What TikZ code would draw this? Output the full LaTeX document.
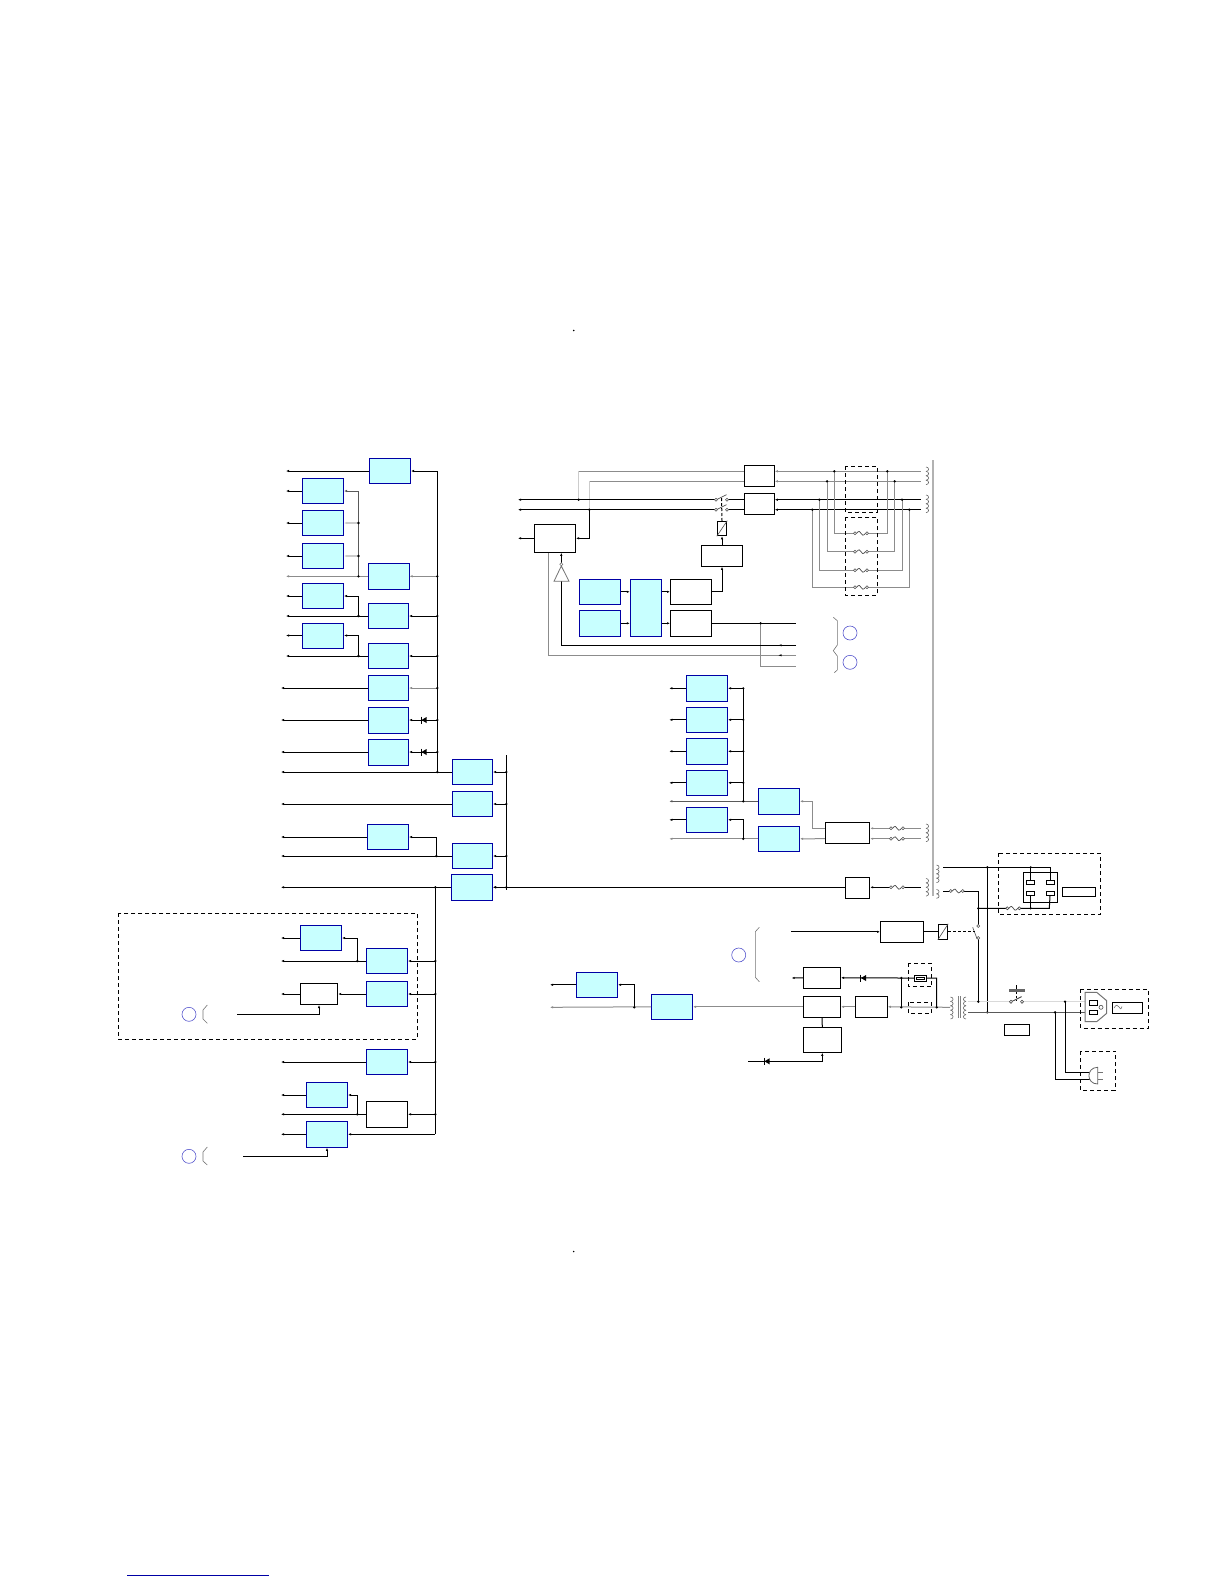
\documentclass[tikz,border=0pt]{standalone}
\usetikzlibrary{arrows.meta,calc}
\definecolor{cyanfill}{RGB}{200,255,255}
\definecolor{boxblue}{RGB}{0,0,165}
\definecolor{ringblue}{RGB}{85,85,205}
\begin{document}
\begin{tikzpicture}[
  x=1pt, y=-1pt,
  >={Latex[length=3pt,width=2.4pt]},
  cbox/.style={draw=boxblue, fill=cyanfill, line width=1pt, minimum width=41pt, minimum height=25pt, inner sep=0pt},
  wbox/.style={draw=black, fill=white, line width=1pt, minimum width=41pt, minimum height=21pt, inner sep=0pt},
  cont/.style={draw=black, fill=white, line width=.8pt, minimum width=8pt, minimum height=4.5pt, inner sep=0pt},
  ring/.style={circle, draw=ringblue, line width=.6pt, minimum size=14pt, inner sep=0pt},
  wire/.style={black, line width=1pt},
  gw/.style={black!45, line width=1pt},
  lg/.style={black!20, line width=1.5pt},
  dg/.style={black!65, line width=1pt},
  thin grey/.style={black!55, line width=.6pt},
  dbox/.style={black, line width=.9pt, dash pattern=on 4pt off 3pt},
  pics/fuse/.style={code={
    \fill[white] (-7,-2.5) rectangle (7,2.5);
    \draw[black!70, line width=.7pt] (-4.5,0) .. controls (-2,-3) and (-1,-2) .. (0,0) .. controls (1,2) and (2,3) .. (4.5,0);
    \draw[black!70, line width=.6pt, fill=white] (-6,0) circle (1.5) (6,0) circle (1.5);
  }},
  pics/diode/.style={code={
    \fill[black] (-1.5,0) -- (3.5,-3) -- (3.5,3) -- cycle;
    \draw[black, line width=.7pt] (-2,-3.5) -- (-2,3.5);
  }},
  pics/coilr/.style={code={
    \foreach \i in {1,...,#1}
      \draw[black!60, line width=.6pt] (0,\i*4.4-4.4) arc (-90:90:2.6 and 2.2);
  }},
  pics/coill/.style={code={
    \foreach \i in {1,...,#1}
      \draw[black!60, line width=.6pt] (0,\i*4.4-4.4) arc (270:90:2.6 and 2.2);
  }},
  pics/swt/.style={code={
    \draw[black!70, line width=.7pt] (-5,0) -- (5,-5);
    \draw[black!70, line width=.6pt, fill=white] (-5.5,0) circle (1.5) (5.5,0) circle (1.5);
  }}
]
  \useasboundingbox (0,0) rectangle (1224,1584);

  \coordinate (lA) at (286,0);
  \coordinate (lB) at (281,0);
  \coordinate (busA) at (437.3,0);
  \coordinate (busB) at (506.3,0);
  \coordinate (busC) at (435.3,0);
  \coordinate (jA) at (358.5,0);
  \coordinate (jB) at (436.3,0);
  \coordinate (jE) at (357.3,0);

  \node[cbox] (a1) at (390,471) {};
  \node[cbox] (l1) at (323,491) {};
  \node[cbox] (l2) at (323,523) {};
  \node[cbox] (l3) at (323,556) {};
  \node[cbox] (l4) at (323,596) {};
  \node[cbox] (l5) at (323,635.5) {};
  \node[cbox, minimum height=26pt] (m1) at (388.5,576.3) {};
  \node[cbox, minimum width=40pt] (m2) at (388.5,616) {};
  \node[cbox, minimum width=40pt] (m3) at (388.5,656) {};
  \node[cbox, minimum width=40pt] (m4) at (388.5,688) {};
  \node[cbox, minimum width=40pt, minimum height=26pt] (m5) at (388.5,720) {};
  \node[cbox, minimum width=40pt, minimum height=26pt] (m6) at (388.5,752) {};
  \node[cbox, minimum width=40pt] (r1) at (472.5,772) {};
  \node[cbox, minimum width=40pt] (r2) at (472.5,804) {};
  \node[cbox] (n1) at (388,837) {};
  \node[cbox, minimum width=40pt] (r3) at (472.5,856) {};
  \node[cbox, minimum height=26pt] (r4) at (472,887.3) {};

  \foreach \n in {a1,l1,l2,l3,l4,l5,m2,m3}
    \draw[wire,->] (\n.west) -- (\n.west -| lA);
  \draw[gw,->] (m1.west) -- (m1.west -| lA);
  \foreach \n in {m4,m5,m6,r1,r2,n1,r3,r4}
    \draw[wire,->] (\n.west) -- (\n.west -| lB);

  \draw[wire] (a1.east -| busA) -- (r1.west -| busA);
  \foreach \n in {a1,m2,m3,m5,m6}
    \draw[wire,<-] (\n.east) -- (\n.east -| busA);
  \foreach \n in {m1,m4}
    \draw[gw,<-] (\n.east) -- (\n.east -| busA);
  \pic at (423,720) {diode};
  \pic at (423,752) {diode};

  \draw[dg,<-] (l1.east) -- (l1.east -| jA) -- (m1.west -| jA);
  \draw[lg,<-] (l2.east) -- (l2.east -| jA);
  \draw[lg,<-] (l3.east) -- (l3.east -| jA);
  \draw[wire,<-] (l4.east) -| (m2.west -| jA);
  \draw[wire,<-] (l5.east) -| (m3.west -| jA);
  \draw[wire,<-] (n1.east) -| (r3.west -| jB);

  \coordinate (busT) at (506.3,755);
  \coordinate (busE) at (506.3,890);
  \draw[wire] (busT) -- (busE);
  \foreach \n in {r1,r2,r3,r4}
    \draw[wire,<-] (\n.east) -- (\n.east -| busB);

  \node[cbox] (s1) at (321,938) {};
  \node[cbox] (s2) at (387,961) {};
  \node[wbox, minimum width=37.4pt] (w1) at (319,994) {};
  \node[cbox] (s3) at (387,994) {};
  \node[cbox] (s4) at (387,1062) {};
  \node[cbox] (s5) at (327,1095) {};
  \node[wbox, minimum height=26pt] (w2) at (387,1114.3) {};
  \node[cbox, minimum height=26pt] (s6) at (327,1134.3) {};

  \draw[wire] (r4.west -| busC) -- (s6.east -| busC);
  \foreach \n in {s2,s3,s4,w2}
    \draw[wire,<-] (\n.east) -- (\n.east -| busC);
  \draw[wire,<-] (s6.east) -- (s6.east -| busC);
  \foreach \n in {s1,s2,w1,s4,s5,w2,s6}
    \draw[wire,->] (\n.west) -- (\n.west -| lB);
  \draw[wire,<-] (w1.east) -- (s3.west);
  \draw[wire,<-] (s1.east) -| (s2.west -| jE);
  \draw[wire,<-] (s5.east) -| (w2.west -| jE);

  \node[ring] (c1) at (189,1014.3) {};
  \node[ring] (c2) at (189,1156.3) {};
  \coordinate (e1) at (237,1014.3);
  \coordinate (e2) at (243,1156.3);
  \draw[wire,<-] (w1.south) |- (e1);
  \draw[wire,<-] (s6.south) |- (e2);
  \draw[thin grey] (207.3,1005) -- (203,1010) -- (203,1019) -- (207.3,1023.3);
  \draw[thin grey] (207.3,1147) -- (203,1152) -- (203,1161) -- (207.3,1165);

  \draw[dbox] (118.3,913.3) rectangle (417.3,1039.3);

  \foreach \n/\b in {m1/jA,m2/jA,m3/jA,r3/jB,s2/jE,w2/jE}
    \fill (\n.west -| \b) circle (1.3);
  \foreach \n in {m1,m2,m3,m4,m5,m6}
    \fill (\n.east -| busA) circle (1.3);
  \foreach \n in {l2,l3}
    \fill (\n.east -| jA) circle (1.3);
  \foreach \n in {r1,r2,r3,r4}
    \fill (\n.east -| busB) circle (1.3);
  \foreach \n in {s2,s3,s4,w2}
    \fill (\n.east -| busC) circle (1.3);
  \fill (r1.west -| busA) circle (1.3);
  \fill (r4.west -| busC) circle (1.3);

  \coordinate (tA) at (921,471.3);
  \coordinate (tB) at (921,481.3);
  \coordinate (tC) at (921,499.7);
  \coordinate (tD) at (921,509.7);
  \coordinate (sA) at (518,499.7);
  \coordinate (sB) at (518,509.7);
  \coordinate (jC) at (578.7,499.7);
  \coordinate (jD) at (589.3,509.7);
  \coordinate (swL) at (716,0);
  \coordinate (swR) at (727,0);

  \node[wbox, minimum width=30pt] (t1) at (759.3,475.8) {};
  \node[wbox, minimum width=30pt] (t2) at (759.3,503.8) {};
  \node[wbox, minimum height=28pt] (b1) at (555,538.3) {};
  \node[wbox] (u1) at (722,555.8) {};
  \node[wbox, minimum width=9.5pt, minimum height=14.5pt] (y1) at (722,528.5) {};
  \node[wbox, minimum height=25pt] (v1) at (691,591.8) {};
  \node[wbox, minimum height=26pt] (v2) at (691,623.3) {};
  \node[cbox, minimum width=31pt, minimum height=57pt] (g1) at (645.8,607.8) {};
  \node[cbox] (c3) at (600,591.8) {};
  \node[cbox, minimum height=26pt] (c4) at (600,623.3) {};

  \draw[gw,<-] (t1.east |- tA) -- (tA);
  \draw[gw,<-] (t1.east |- tB) -- (tB);
  \draw[wire,<-] (t2.east |- tC) -- (tC);
  \draw[wire,<-] (t2.east |- tD) -- (tD);
  \draw[gw] (t1.west |- tA) -- (jC |- tA);
  \draw[gw] (t1.west |- tB) -- (jD |- tB);
  \draw[lg] (jC |- tA) -- (jC);
  \draw[lg] (jD |- tB) -- (jD);
  \draw[wire,->] (swL |- tC) -- (sA);
  \draw[wire,->] (swL |- tD) -- (sB);
  \draw[wire] (t2.west |- tC) -- (swR |- tC);
  \draw[wire] (t2.west |- tD) -- (swR |- tD);
  \pic at (721.5,499.7) {swt};
  \pic at (721.5,509.7) {swt};
  \draw[wire, dash pattern=on 3pt off 2pt] (721.5,498) -- (y1.north);
  \draw[black!70, line width=.6pt] (y1.south west) -- (y1.north east);
  \fill (jC) circle (1.3);
  \fill (jD) circle (1.3);

  \coordinate (bT) at (561.3,645.3);
  \coordinate (bG) at (548.7,655.3);
  \coordinate (eT) at (796,645.3);
  \coordinate (eG) at (796,655.3);
  \coordinate (eV) at (796,623.3);
  \coordinate (eH) at (796,666.3);
  \coordinate (jV) at (760.7,623.3);
  \coordinate (tp) at (561.3,566);
  \coordinate (tl) at (554,581.3);
  \coordinate (tr) at (569,581.3);

  \draw[wire,<-] (b1.east) -| (jD);
  \draw[wire,->] (b1.west) -- (b1.west -| sA);
  \draw[wire,<-] (y1.south) -- (u1.north);
  \draw[wire,<-] (u1.south) |- (v1.east);
  \draw[wire,<-] (v1.west) -- (v1.west -| g1.east);
  \draw[wire,<-] (v2.west) -- (v2.west -| g1.east);
  \draw[wire,<-] (c3.east -| g1.west) -- (c3.east);
  \draw[wire,<-] (c4.east -| g1.west) -- (c4.east);
  \draw[wire] (v2.east) -- (eV);
  \draw[gw] (jV) -- (jV |- eH) -- (eH);
  \draw[wire] (eT) -- (bT) -- (tl -| bT);
  \draw[gw] (eG) -- (bG) -- (b1.south -| bG);
  \draw[wire,->] (tp) -- (b1.south -| tp);
  \draw[black!55, line width=.8pt] (tp) -- (tl) -- (tr) -- cycle;
  \draw[black!55, line width=.5pt, fill=white] (561.3,564.3) circle (1.6);
  \fill (jV) circle (1.3);
  \fill (bT -| 780,0) +(-1.5,0) -- +(1.5,-1) -- +(1.5,1) -- cycle;
  \fill (bG -| 780,0) +(-1.5,0) -- +(1.5,-1) -- +(1.5,1) -- cycle;

  \foreach \t/\xa/\xb/\yb in {tA/834.3/887.3/533.3,tB/827/894.7/551.7,tC/819.3/902/570.3,tD/812.3/909.3/587.3}{
    \coordinate (p) at (\xa,\yb);
    \coordinate (q) at (\xb,\yb);
    \draw[gw] (\t -| p) -- (p) -- (q) -- (\t -| q);
    \fill (\t -| p) circle (1.3);
    \fill (\t -| q) circle (1.3);
    \pic at (861,\yb) {fuse};
  }

  \draw[dbox] (845.3,466) rectangle (877.3,512.3);
  \draw[dbox] (845.3,517.3) rectangle (877.3,595.3);

  \pic at (926,467) {coilr=4};
  \pic at (926,495) {coilr=4};
  \pic at (926,824) {coilr=4};
  \pic at (926,878.5) {coilr=4};
  \pic at (936.5,865) {coilr=4};
  \pic at (936.5,889.5) {coilr=2};
  \coordinate (gT) at (932.7,460);
  \coordinate (gB) at (932.7,896);
  \draw[black!30, line width=2.4pt] (gT) -- (gB);

  \node[ring] (c5) at (850,633) {};
  \node[ring] (c6) at (850,662.3) {};
  \draw[thin grey] (833.3,617.3) -- (837.3,620.7) -- (837.3,645) -- (833.3,650.7) -- (837.3,656) -- (837.3,670) -- (834.3,672.7);

  \node[cbox, minimum height=26pt] (p1) at (707,688.3) {};
  \node[cbox] (p2) at (707,719.8) {};
  \node[cbox, minimum height=26pt] (p3) at (707,751.3) {};
  \node[cbox] (p4) at (707,782.8) {};
  \node[cbox] (p5) at (707,819.8) {};
  \node[cbox, minimum height=26pt] (q1) at (779,801.3) {};
  \node[cbox] (q2) at (779,838.8) {};
  \node[wbox, minimum width=44.4pt] (e5) at (847.5,832.8) {};
  \node[wbox, minimum width=24.4pt] (z1) at (857.5,887.8) {};

  \coordinate (lP) at (669.3,0);
  \coordinate (busP) at (743.3,0);
  \coordinate (jQ) at (812.3,0);
  \coordinate (cA) at (921,828.3);
  \coordinate (cB) at (921,838.7);
  \coordinate (cC) at (921,887.3);

  \foreach \n in {p1,p2,p3,p4,p5}{
    \draw[wire,->] (\n.west) -- (\n.west -| lP);
  }
  \foreach \n in {p1,p2,p3,p4}{
    \draw[wire,<-] (\n.east) -- (\n.east -| busP);
    \fill (\n.east -| busP) circle (1.2);
  }
  \draw[wire] (p1.east -| busP) -- (q1.west -| busP);
  \draw[wire,<-] (p5.east) -| (q2.west -| busP);
  \draw[dg,->] (q1.west) -- (q1.west -| lP);
  \draw[gw,->] (q2.west) -- (q2.west -| lP);
  \fill (q1.west -| busP) circle (1.3);
  \fill (q2.west -| busP) circle (1.3);
  \draw[gw,<-] (q1.east) -- (q1.east -| jQ) -- (e5.west |- cA -| jQ) -- (e5.west |- cA);
  \draw[gw,<-] (q2.east) -- (e5.west |- cB);
  \draw[gw,<-] (e5.east |- cA) -- (cA);
  \draw[gw,<-] (e5.east |- cB) -- (cB);
  \pic at (897,828.3) {fuse};
  \pic at (897,838.7) {fuse};

  \draw[wire,<-] (r4.east) -- (z1.west |- cC);
  \draw[wire,<-] (z1.east |- cC) -- (cC);
  \pic at (897,887.3) {fuse};

  \coordinate (hA) at (943.3,867.3);
  \coordinate (hJ) at (987.3,867.3);
  \coordinate (hC) at (1049.3,908.3);
  \coordinate (hD) at (978.3,908.3);
  \coordinate (hE) at (943,891);
  \coordinate (hF) at (978.3,891);
  \coordinate (hG) at (978.3,926);
  \coordinate (hH) at (978.3,938);
  \coordinate (hI) at (978.3,1001.7);
  \coordinate (jF) at (987.3,1012.3);
  \coordinate (oA) at (968,1001.7);
  \coordinate (oB) at (968,1012.3);
  \coordinate (oC) at (1085,1001.7);
  \coordinate (oD) at (1085,1012.3);
  \coordinate (jG) at (1065,1001.7);
  \coordinate (jH) at (1055,1012.3);
  \coordinate (kA) at (1090,1072.3);
  \coordinate (kB) at (1090,1079);
  \coordinate (kC) at (1102.7,1072.3);
  \coordinate (kD) at (1102.7,1079);

  \node[wbox, minimum width=34pt, minimum height=30.4pt, fill=none] (rb) at (1040.3,887.5) {};
  \node[cont] (k1) at (1030.7,882.2) {};
  \node[cont] (k2) at (1050,882.2) {};
  \node[cont] (k3) at (1030.7,893.2) {};
  \node[cont] (k4) at (1050,893.2) {};
  \node[wbox, minimum width=33.4pt, minimum height=9.4pt] (x1) at (1079,892) {};
  \node[wbox, minimum width=25pt, minimum height=11pt] (x2) at (1016.8,1029.8) {};
  \node[wbox, minimum width=30pt, minimum height=11pt] (x3) at (1127.3,1007.8) {};
  \node[wbox, minimum width=43pt] (f1) at (902,931.8) {};
  \node[wbox, minimum width=9.4pt, minimum height=15pt] (y2) at (943,931.8) {};

  \draw[wire] (hA) -- (hA -| k2.north) -- (k2.north);
  \draw[wire] (hA -| k1.north) -- (k1.north);
  \draw[wire] (k3.south) -- (k3.south |- hC);
  \draw[wire] (k4.south) -- (hC) -- (hD);
  \pic at (1013.3,908.3) {fuse};
  \fill (hA -| k1.north) circle (1.2);
  \fill (hC -| k3.south) circle (1.2);
  \fill (hD) circle (1.3);
  \draw[wire] (hJ) -- (jF);
  \fill (hJ) circle (1.3);
  \fill (jF) circle (1.3);
  \draw[wire] (hE) -- (hF) -- (hG);
  \pic at (956.7,891) {fuse};
  \draw[wire] (hH) -- (hI);
  \draw[black!70, line width=.6pt] (972.7,927.3) -- (977,938.7);
  \draw[black!70, line width=.6pt, fill=white] (hG) circle (1.5) (hH) circle (1.5);
  \draw[wire, dash pattern=on 3pt off 2pt] (y2.east) -- (975,931.8);
  \draw[black!70, line width=.6pt] (y2.south west) -- (y2.north east);
  \draw[wire] (f1.east) -- (y2.west);
  \draw[wire,<-] (f1.west) -- ++(-89.3,0) coordinate (f2);

  \draw[black!15, line width=1.4pt] (oA) -- (oC);
  \draw[dg] (oB) -- (oD);
  \fill (hI) circle (1.3);
  \pic at (1016.5,1001.7) {swt};
  \fill[white] (1012,1001) rectangle (1021,1002.5);
  \pic at (1016.5,1001.7) {swt};
  \draw[wire, dash pattern=on 2pt off 2pt] (1016.5,991.7) -- (1016.5,1000);
  \fill[black!60] (1009.3,989) rectangle (1024.7,991.7);
  \fill[black] (1016,985) rectangle (1017.3,989);

  \draw[wire] (jG) |- (kA);
  \draw[wire] (jH) |- (kB);
  \fill (jG) circle (1.3);
  \fill (jH) circle (1.3);
  \draw[thin grey] (kA) -- (kC);
  \draw[thin grey] (kB) -- (kD);
  \draw[black!60, line width=.8pt, fill=white] (1097.7,1067.3) .. controls (1086,1067.3) and (1086,1084) .. (1097.7,1084) -- cycle;

  \draw[black!55, line width=1pt, fill=white] (1085,992.3) -- (1096.7,992.3) -- (1106.7,1000.7) -- (1106.7,1013.3) -- (1096.7,1021.7) -- (1085,1021.7) -- cycle;
  \node[cont] (k5) at (1093.5,1002.7) {};
  \node[cont] (k6) at (1093.5,1012.3) {};
  \draw[black!70, line width=.6pt] (1101,1007.3) circle (2);
  \draw[black!55, line width=.6pt] (1114,1008) .. controls (1116,1004) and (1118,1005) .. (1119,1007) .. controls (1120,1009) and (1121,1010) .. (1122,1006.5);

  \draw[dbox] (998.3,853.3) rectangle (1100.7,914.3);
  \draw[dbox] (1080.7,989.3) rectangle (1148.3,1028.3);
  \draw[dbox] (1080.7,1051) rectangle (1115.3,1090.3);

  \node[cbox] (h1) at (597,984.8) {};
  \node[cbox] (h2) at (672,1006.8) {};
  \node[wbox, minimum width=37pt] (e1b) at (822,977.8) {};
  \node[wbox, minimum width=37pt] (e2b) at (822,1006.8) {};
  \node[wbox, minimum width=38pt, minimum height=25pt] (e3b) at (822.3,1039.8) {};
  \node[wbox, minimum width=32pt] (e4b) at (871.3,1006.8) {};
  \node[ring] (c7) at (738.7,955) {};
  \draw[thin grey] (759.3,927.3) -- (755.3,931.7) -- (755.3,977.3) -- (759.3,981.7);

  \coordinate (lH) at (550,0);
  \coordinate (jI) at (634.3,1007.3);
  \coordinate (jJ) at (901.3,978);
  \coordinate (jK) at (901.3,1007.3);
  \coordinate (jL) at (936.7,978);
  \coordinate (jM) at (936.7,1007.3);
  \coordinate (tI) at (950,1007.3);
  \coordinate (lE) at (791.7,978);
  \coordinate (lF) at (748.3,1061.3);

  \draw[wire,->] (h1.west) -- (h1.west -| lH);
  \draw[wire,<-] (h1.east) -| (jI);
  \draw[gw,->] (h2.west) -- (jI -| lH);
  \draw[gw,<-] (h2.east) -- (e2b.west);
  \draw[wire,->] (e1b.west) -- (lE);
  \draw[wire,<-] (e1b.east) -- (jJ) -- (jL) -- (jM);
  \draw[wire] (jJ) -- (jK);
  \draw[gw,<-] (e2b.east) -- (e4b.west);
  \draw[gw,<-] (e4b.east) -- (tI);
  \draw[wire] (e2b.south) -- (e3b.north);
  \draw[wire,<-] (e3b.south) |- (lF);
  \fill (jI) circle (1.3);
  \fill (jJ) circle (1.3);
  \fill (jK) circle (1.3);
  \fill (jM) circle (1.3);
  \pic at (862.5,978) {diode};
  \pic at (766,1061.3) {diode};
  \draw[black, line width=.8pt, fill=white] (914.3,975.3) rectangle (926.7,981.3);
  \draw[black, line width=.6pt] (916.5,977) rectangle (924.5,979.5);
  \draw[dbox] (908.3,963.3) rectangle (931.7,986.7);
  \draw[dbox] (908.3,1002.3) rectangle (931.7,1013.3);

  \pic at (950.5,997) {coilr=5};
  \pic at (966,997) {coill=5};
  \draw[black!50, line width=.7pt] (958,996) -- (958,1018) (960.5,996) -- (960.5,1018);

  \fill (573.7,330.5) circle (.8);
  \fill (573.7,1251.5) circle (.8);
  \draw[boxblue, line width=1pt] (127,1575) -- (269,1575);
\end{tikzpicture}
\end{document}
